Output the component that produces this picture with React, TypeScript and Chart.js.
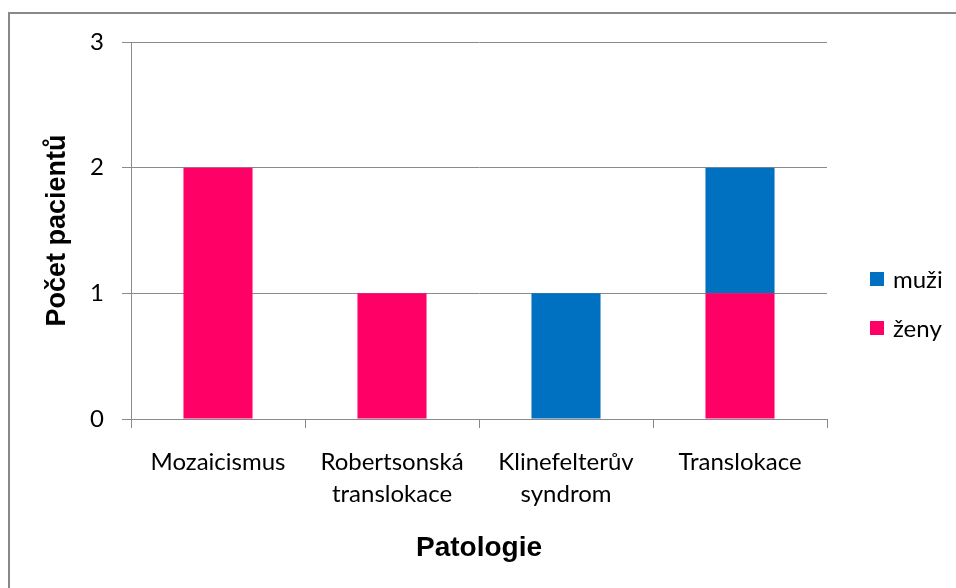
import React, { useEffect, useRef } from 'react';
import { Chart, registerables } from 'chart.js';

Chart.register(...registerables);

const categories: string[][] = [
  ['Mozaicismus'],
  ['Robertsonská', 'translokace'],
  ['Klinefelterův', 'syndrom'],
  ['Translokace'],
];
const zenyValues = [2, 1, 0, 1];
const muziValues = [0, 0, 1, 1];
const seriesNames = ['ženy', 'muži'];
const yMin = 0;
const yMax = 3;
const yStep = 1;

const PINK = '#FF0066';
const BLUE = '#0070C0';
const GRID = '#8a8a8a';
const TICK_FONT = 'Lato';
const TITLE_FONT = '"Liberation Sans", Arial, sans-serif';

const sideLegend = {
  id: 'sideLegend',
  afterDraw(chart: any) {
    const { ctx, chartArea } = chart;
    const ds = [...chart.data.datasets].reverse();
    const x = chartArea.right + 43;
    const startY = chartArea.top + 237;
    ctx.save();
    ctx.font = `24px ${TICK_FONT}`;
    ctx.textBaseline = 'middle';
    ctx.textAlign = 'left';
    ds.forEach((d: any, i: number) => {
      const cy = startY + i * 49;
      ctx.fillStyle = d.backgroundColor;
      ctx.fillRect(x, cy - 7, 14, 14);
      ctx.fillStyle = '#000';
      ctx.fillText(d.label, x + 23, cy + 1);
    });
    ctx.restore();
  },
};

export default function App() {
  const ref = useRef<HTMLCanvasElement | null>(null);

  useEffect(() => {
    if (!ref.current) return;
    const chart = new Chart(ref.current, {
      type: 'bar',
      data: {
        labels: categories,
        datasets: [
          {
            label: seriesNames[0],
            data: zenyValues,
            backgroundColor: PINK,
            barPercentage: 0.397,
            categoryPercentage: 1,
          },
          {
            label: seriesNames[1],
            data: muziValues,
            backgroundColor: BLUE,
            barPercentage: 0.397,
            categoryPercentage: 1,
          },
        ],
      },
      options: {
        responsive: false,
        animation: false,
        devicePixelRatio: 1,
        layout: { padding: { left: 0, top: 28, right: 129, bottom: 0 } },
        plugins: {
          legend: { display: false },
          tooltip: { enabled: false },
        },
        scales: {
          x: {
            stacked: true,
            ticks: {
              font: { family: TICK_FONT, size: 24, lineHeight: 1.33 },
              color: '#000',
              padding: 18,
              maxRotation: 0,
              autoSkip: false,
            },
            grid: {
              drawOnChartArea: false,
              color: GRID,
              tickLength: 9,
              offset: true,
            },
            border: { color: GRID },
            title: {
              display: true,
              text: 'Patologie',
              color: '#000',
              font: { family: TITLE_FONT, size: 28, weight: 'bold' },
              padding: { top: 0, bottom: 23 },
            },
            afterFit: (s: any) => {
              s.height = 169;
            },
          },
          y: {
            stacked: true,
            min: yMin,
            max: yMax,
            ticks: {
              stepSize: yStep,
              font: { family: TICK_FONT, size: 24 },
              color: '#000',
              padding: 18,
            },
            grid: { color: GRID, tickLength: 9, lineWidth: 1 },
            border: { color: GRID },
            title: {
              display: true,
              text: 'Počet pacientů',
              color: '#000',
              font: { family: TITLE_FONT, size: 27, weight: 'bold' },
              padding: { top: 31, bottom: 0 },
            },
            afterFit: (s: any) => {
              s.width = 121;
              s.paddingTop = 0;
              s.paddingBottom = 0;
            },
          },
        },
      },
      plugins: [sideLegend],
    } as any);
    return () => chart.destroy();
  }, []);

  return (
    <div
      style={{
        position: 'absolute',
        left: 8,
        top: 12,
        width: 946,
        height: 574,
        borderTop: '2px solid #898989',
        borderLeft: '2px solid #898989',
        background: '#fff',
      }}
    >
      <canvas ref={ref} width={946} height={574} style={{ display: 'block', width: 946, height: 574 }} />
    </div>
  );
}
